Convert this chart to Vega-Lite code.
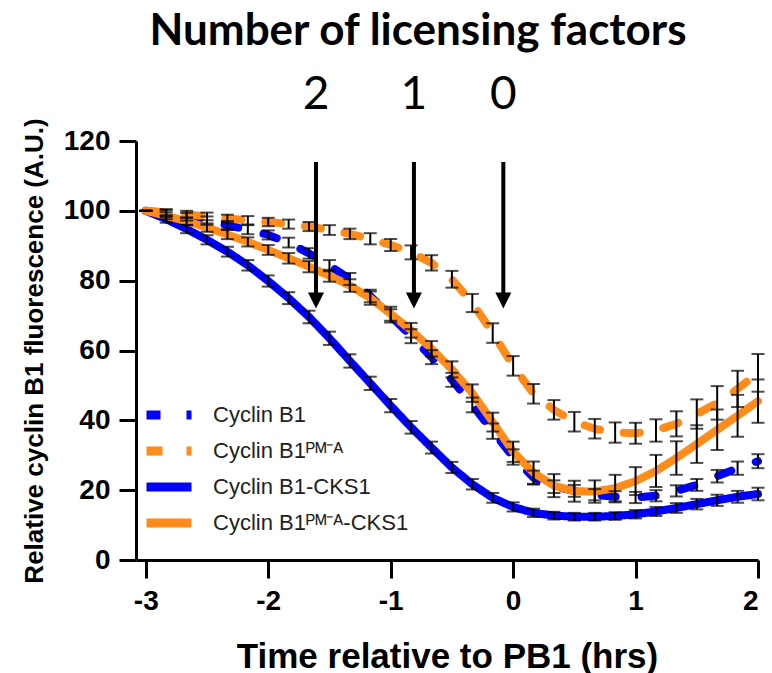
{
  "$schema": "https://vega.github.io/schema/vega-lite/v6.json",
  "width": 622,
  "height": 419,
  "autosize": {"type": "none"},
  "padding": {"left": 136, "top": 141, "right": 14, "bottom": 113},
  "background": "white",
  "title": {"text": "Number of licensing factors", "font": "Lato", "fontSize": 44, "fontWeight": "bold", "color": "black", "frame": "group", "anchor": "middle", "dx": -29, "offset": 18},
  "config": {
    "view": {"stroke": null},
    "axis": {"domainColor": "black", "domainWidth": 3, "tickColor": "black", "tickWidth": 3, "labelFont": "Liberation Sans", "labelFontWeight": "bold", "labelFontSize": 28, "labelColor": "black", "titleFont": "Liberation Sans", "titleFontWeight": "bold", "titleColor": "black", "grid": false},
    "axisX": {"tickSize": 18, "labelPadding": 9, "titleFontSize": 35, "titlePadding": 24},
    "axisY": {"tickSize": 17, "labelPadding": 9, "titleFontSize": 26, "titlePadding": 16}
  },
  "datasets": {
    "curves": [
      {"series": "Cyclin B1", "t": -3, "y": 100, "e": 0},
      {"series": "Cyclin B1", "t": -2.8333, "y": 99.2, "e": 1.0},
      {"series": "Cyclin B1", "t": -2.6667, "y": 98.3, "e": 1.1},
      {"series": "Cyclin B1", "t": -2.5, "y": 97.2, "e": 1.2},
      {"series": "Cyclin B1", "t": -2.3333, "y": 95.9, "e": 1.2},
      {"series": "Cyclin B1", "t": -2.1667, "y": 94.6, "e": 1.3},
      {"series": "Cyclin B1", "t": -2, "y": 93.1, "e": 1.3},
      {"series": "Cyclin B1", "t": -1.8333, "y": 90.9, "e": 1.4},
      {"series": "Cyclin B1", "t": -1.6667, "y": 87.8, "e": 1.5},
      {"series": "Cyclin B1", "t": -1.5, "y": 84.3, "e": 1.6},
      {"series": "Cyclin B1", "t": -1.3333, "y": 80.5, "e": 1.7},
      {"series": "Cyclin B1", "t": -1.1667, "y": 75.6, "e": 1.8},
      {"series": "Cyclin B1", "t": -1, "y": 69.9, "e": 1.9},
      {"series": "Cyclin B1", "t": -0.8333, "y": 64.1, "e": 2.0},
      {"series": "Cyclin B1", "t": -0.6667, "y": 58.1, "e": 2.0},
      {"series": "Cyclin B1", "t": -0.5, "y": 51.6, "e": 2.0},
      {"series": "Cyclin B1", "t": -0.3333, "y": 44.4, "e": 2.1},
      {"series": "Cyclin B1", "t": -0.1667, "y": 36.9, "e": 2.2},
      {"series": "Cyclin B1", "t": 0, "y": 29.5, "e": 2.2},
      {"series": "Cyclin B1", "t": 0.1667, "y": 23.6, "e": 2.0},
      {"series": "Cyclin B1", "t": 0.3333, "y": 21.0, "e": 1.8},
      {"series": "Cyclin B1", "t": 0.5, "y": 19.8, "e": 1.7},
      {"series": "Cyclin B1", "t": 0.6667, "y": 18.7, "e": 1.6},
      {"series": "Cyclin B1", "t": 0.8333, "y": 18.1, "e": 1.6},
      {"series": "Cyclin B1", "t": 1, "y": 17.9, "e": 1.6},
      {"series": "Cyclin B1", "t": 1.1667, "y": 18.4, "e": 1.6},
      {"series": "Cyclin B1", "t": 1.3333, "y": 19.8, "e": 1.6},
      {"series": "Cyclin B1", "t": 1.5, "y": 21.5, "e": 1.7},
      {"series": "Cyclin B1", "t": 1.6667, "y": 24.0, "e": 1.8},
      {"series": "Cyclin B1", "t": 1.8333, "y": 26.3, "e": 1.9},
      {"series": "Cyclin B1", "t": 2, "y": 28.3, "e": 2.0},
      {"series": "Cyclin B1ᴾᴹ⁻ᴬ", "t": -3, "y": 100, "e": 0},
      {"series": "Cyclin B1ᴾᴹ⁻ᴬ", "t": -2.8333, "y": 99.6, "e": 0.9},
      {"series": "Cyclin B1ᴾᴹ⁻ᴬ", "t": -2.6667, "y": 99.0, "e": 1.0},
      {"series": "Cyclin B1ᴾᴹ⁻ᴬ", "t": -2.5, "y": 98.4, "e": 1.1},
      {"series": "Cyclin B1ᴾᴹ⁻ᴬ", "t": -2.3333, "y": 97.8, "e": 1.1},
      {"series": "Cyclin B1ᴾᴹ⁻ᴬ", "t": -2.1667, "y": 97.3, "e": 1.2},
      {"series": "Cyclin B1ᴾᴹ⁻ᴬ", "t": -2, "y": 96.8, "e": 1.2},
      {"series": "Cyclin B1ᴾᴹ⁻ᴬ", "t": -1.8333, "y": 96.2, "e": 1.3},
      {"series": "Cyclin B1ᴾᴹ⁻ᴬ", "t": -1.6667, "y": 95.5, "e": 1.3},
      {"series": "Cyclin B1ᴾᴹ⁻ᴬ", "t": -1.5, "y": 94.5, "e": 1.4},
      {"series": "Cyclin B1ᴾᴹ⁻ᴬ", "t": -1.3333, "y": 93.4, "e": 1.5},
      {"series": "Cyclin B1ᴾᴹ⁻ᴬ", "t": -1.1667, "y": 92.0, "e": 1.6},
      {"series": "Cyclin B1ᴾᴹ⁻ᴬ", "t": -1, "y": 90.2, "e": 1.7},
      {"series": "Cyclin B1ᴾᴹ⁻ᴬ", "t": -0.8333, "y": 88.1, "e": 2.0},
      {"series": "Cyclin B1ᴾᴹ⁻ᴬ", "t": -0.6667, "y": 85.1, "e": 2.2},
      {"series": "Cyclin B1ᴾᴹ⁻ᴬ", "t": -0.5, "y": 80.4, "e": 2.4},
      {"series": "Cyclin B1ᴾᴹ⁻ᴬ", "t": -0.3333, "y": 73.6, "e": 2.6},
      {"series": "Cyclin B1ᴾᴹ⁻ᴬ", "t": -0.1667, "y": 65.0, "e": 2.8},
      {"series": "Cyclin B1ᴾᴹ⁻ᴬ", "t": 0, "y": 55.6, "e": 2.8},
      {"series": "Cyclin B1ᴾᴹ⁻ᴬ", "t": 0.1667, "y": 47.6, "e": 2.8},
      {"series": "Cyclin B1ᴾᴹ⁻ᴬ", "t": 0.3333, "y": 43.0, "e": 2.8},
      {"series": "Cyclin B1ᴾᴹ⁻ᴬ", "t": 0.5, "y": 39.6, "e": 2.8},
      {"series": "Cyclin B1ᴾᴹ⁻ᴬ", "t": 0.6667, "y": 37.6, "e": 2.8},
      {"series": "Cyclin B1ᴾᴹ⁻ᴬ", "t": 0.8333, "y": 36.5, "e": 2.9},
      {"series": "Cyclin B1ᴾᴹ⁻ᴬ", "t": 1, "y": 36.3, "e": 3.0},
      {"series": "Cyclin B1ᴾᴹ⁻ᴬ", "t": 1.1667, "y": 37.1, "e": 3.2},
      {"series": "Cyclin B1ᴾᴹ⁻ᴬ", "t": 1.3333, "y": 39.0, "e": 3.6},
      {"series": "Cyclin B1ᴾᴹ⁻ᴬ", "t": 1.5, "y": 41.8, "e": 4.2},
      {"series": "Cyclin B1ᴾᴹ⁻ᴬ", "t": 1.6667, "y": 45.0, "e": 4.8},
      {"series": "Cyclin B1ᴾᴹ⁻ᴬ", "t": 1.8333, "y": 49.0, "e": 5.2},
      {"series": "Cyclin B1ᴾᴹ⁻ᴬ", "t": 2, "y": 53.6, "e": 5.4},
      {"series": "Cyclin B1-CKS1", "t": -3, "y": 100, "e": 0},
      {"series": "Cyclin B1-CKS1", "t": -2.8333, "y": 97.6, "e": 1.0},
      {"series": "Cyclin B1-CKS1", "t": -2.6667, "y": 94.8, "e": 1.2},
      {"series": "Cyclin B1-CKS1", "t": -2.5, "y": 91.7, "e": 1.3},
      {"series": "Cyclin B1-CKS1", "t": -2.3333, "y": 88.3, "e": 1.4},
      {"series": "Cyclin B1-CKS1", "t": -2.1667, "y": 84.4, "e": 1.5},
      {"series": "Cyclin B1-CKS1", "t": -2, "y": 79.9, "e": 1.6},
      {"series": "Cyclin B1-CKS1", "t": -1.8333, "y": 75.0, "e": 1.7},
      {"series": "Cyclin B1-CKS1", "t": -1.6667, "y": 69.6, "e": 1.8},
      {"series": "Cyclin B1-CKS1", "t": -1.5, "y": 63.5, "e": 1.9},
      {"series": "Cyclin B1-CKS1", "t": -1.3333, "y": 57.0, "e": 1.9},
      {"series": "Cyclin B1-CKS1", "t": -1.1667, "y": 50.6, "e": 1.9},
      {"series": "Cyclin B1-CKS1", "t": -1, "y": 44.2, "e": 1.9},
      {"series": "Cyclin B1-CKS1", "t": -0.8333, "y": 38.0, "e": 1.8},
      {"series": "Cyclin B1-CKS1", "t": -0.6667, "y": 32.2, "e": 1.7},
      {"series": "Cyclin B1-CKS1", "t": -0.5, "y": 26.5, "e": 1.6},
      {"series": "Cyclin B1-CKS1", "t": -0.3333, "y": 21.7, "e": 1.5},
      {"series": "Cyclin B1-CKS1", "t": -0.1667, "y": 17.8, "e": 1.4},
      {"series": "Cyclin B1-CKS1", "t": 0, "y": 15.2, "e": 1.3},
      {"series": "Cyclin B1-CKS1", "t": 0.1667, "y": 13.5, "e": 1.2},
      {"series": "Cyclin B1-CKS1", "t": 0.3333, "y": 12.7, "e": 1.1},
      {"series": "Cyclin B1-CKS1", "t": 0.5, "y": 12.4, "e": 1.1},
      {"series": "Cyclin B1-CKS1", "t": 0.6667, "y": 12.4, "e": 1.1},
      {"series": "Cyclin B1-CKS1", "t": 0.8333, "y": 12.6, "e": 1.1},
      {"series": "Cyclin B1-CKS1", "t": 1, "y": 13.1, "e": 1.2},
      {"series": "Cyclin B1-CKS1", "t": 1.1667, "y": 13.9, "e": 1.3},
      {"series": "Cyclin B1-CKS1", "t": 1.3333, "y": 14.9, "e": 1.4},
      {"series": "Cyclin B1-CKS1", "t": 1.5, "y": 16.0, "e": 1.5},
      {"series": "Cyclin B1-CKS1", "t": 1.6667, "y": 17.1, "e": 1.6},
      {"series": "Cyclin B1-CKS1", "t": 1.8333, "y": 18.1, "e": 1.7},
      {"series": "Cyclin B1-CKS1", "t": 2, "y": 18.9, "e": 1.8},
      {"series": "Cyclin B1ᴾᴹ⁻ᴬ-CKS1", "t": -3, "y": 100, "e": 0},
      {"series": "Cyclin B1ᴾᴹ⁻ᴬ-CKS1", "t": -2.8333, "y": 98.6, "e": 1.0},
      {"series": "Cyclin B1ᴾᴹ⁻ᴬ-CKS1", "t": -2.6667, "y": 97.0, "e": 1.1},
      {"series": "Cyclin B1ᴾᴹ⁻ᴬ-CKS1", "t": -2.5, "y": 95.2, "e": 1.2},
      {"series": "Cyclin B1ᴾᴹ⁻ᴬ-CKS1", "t": -2.3333, "y": 93.2, "e": 1.3},
      {"series": "Cyclin B1ᴾᴹ⁻ᴬ-CKS1", "t": -2.1667, "y": 91.1, "e": 1.3},
      {"series": "Cyclin B1ᴾᴹ⁻ᴬ-CKS1", "t": -2, "y": 88.8, "e": 1.4},
      {"series": "Cyclin B1ᴾᴹ⁻ᴬ-CKS1", "t": -1.8333, "y": 86.4, "e": 1.5},
      {"series": "Cyclin B1ᴾᴹ⁻ᴬ-CKS1", "t": -1.6667, "y": 84.0, "e": 1.6},
      {"series": "Cyclin B1ᴾᴹ⁻ᴬ-CKS1", "t": -1.5, "y": 81.4, "e": 1.7},
      {"series": "Cyclin B1ᴾᴹ⁻ᴬ-CKS1", "t": -1.3333, "y": 78.6, "e": 1.8},
      {"series": "Cyclin B1ᴾᴹ⁻ᴬ-CKS1", "t": -1.1667, "y": 75.0, "e": 1.9},
      {"series": "Cyclin B1ᴾᴹ⁻ᴬ-CKS1", "t": -1, "y": 70.5, "e": 2.0},
      {"series": "Cyclin B1ᴾᴹ⁻ᴬ-CKS1", "t": -0.8333, "y": 65.8, "e": 2.1},
      {"series": "Cyclin B1ᴾᴹ⁻ᴬ-CKS1", "t": -0.6667, "y": 60.5, "e": 2.2},
      {"series": "Cyclin B1ᴾᴹ⁻ᴬ-CKS1", "t": -0.5, "y": 54.6, "e": 2.3},
      {"series": "Cyclin B1ᴾᴹ⁻ᴬ-CKS1", "t": -0.3333, "y": 47.8, "e": 2.5},
      {"series": "Cyclin B1ᴾᴹ⁻ᴬ-CKS1", "t": -0.1667, "y": 39.5, "e": 2.7},
      {"series": "Cyclin B1ᴾᴹ⁻ᴬ-CKS1", "t": 0, "y": 31.0, "e": 2.9},
      {"series": "Cyclin B1ᴾᴹ⁻ᴬ-CKS1", "t": 0.1667, "y": 25.0, "e": 3.2},
      {"series": "Cyclin B1ᴾᴹ⁻ᴬ-CKS1", "t": 0.3333, "y": 21.3, "e": 3.3},
      {"series": "Cyclin B1ᴾᴹ⁻ᴬ-CKS1", "t": 0.5, "y": 19.7, "e": 3.0},
      {"series": "Cyclin B1ᴾᴹ⁻ᴬ-CKS1", "t": 0.6667, "y": 19.6, "e": 3.2},
      {"series": "Cyclin B1ᴾᴹ⁻ᴬ-CKS1", "t": 0.8333, "y": 20.6, "e": 3.8},
      {"series": "Cyclin B1ᴾᴹ⁻ᴬ-CKS1", "t": 1, "y": 22.6, "e": 4.0},
      {"series": "Cyclin B1ᴾᴹ⁻ᴬ-CKS1", "t": 1.1667, "y": 25.5, "e": 4.6},
      {"series": "Cyclin B1ᴾᴹ⁻ᴬ-CKS1", "t": 1.3333, "y": 29.2, "e": 4.8},
      {"series": "Cyclin B1ᴾᴹ⁻ᴬ-CKS1", "t": 1.5, "y": 33.2, "e": 5.4},
      {"series": "Cyclin B1ᴾᴹ⁻ᴬ-CKS1", "t": 1.6667, "y": 37.3, "e": 5.8},
      {"series": "Cyclin B1ᴾᴹ⁻ᴬ-CKS1", "t": 1.8333, "y": 41.3, "e": 6.0},
      {"series": "Cyclin B1ᴾᴹ⁻ᴬ-CKS1", "t": 2, "y": 45.5, "e": 6.2}
    ],
    "arrows": [
      {"t": -1.61, "label": "2"},
      {"t": -0.81, "label": "1"},
      {"t": -0.08, "label": "0"}
    ]
  },
  "layer": [
    {
      "data": {"name": "curves"},
      "mark": {"type": "line", "strokeWidth": 8, "strokeCap": "round", "strokeJoin": "round"},
      "encoding": {
        "x": {"field": "t", "type": "quantitative", "scale": {"domain": [-3.08, 2], "nice": false, "zero": false}, "axis": {"values": [-3, -2, -1, 0, 1, 2], "labelExpr": "'' + datum.value"}, "title": "Time relative to PB1 (hrs)"},
        "y": {"field": "y", "type": "quantitative", "scale": {"domain": [0, 120], "nice": false}, "axis": {"values": [0, 20, 40, 60, 80, 100, 120]}, "title": "Relative cyclin B1 fluorescence (A.U.)"},
        "color": {"field": "series", "type": "nominal", "title": null,
          "scale": {"domain": ["Cyclin B1", "Cyclin B1ᴾᴹ⁻ᴬ", "Cyclin B1-CKS1", "Cyclin B1ᴾᴹ⁻ᴬ-CKS1"], "range": ["#0000ff", "#ff8c1a", "#0000ff", "#ff8c1a"]},
          "legend": {"orient": "none", "legendX": 17, "legendY": 258, "symbolType": "M-2,0L2,0", "symbolSize": 506, "symbolStrokeWidth": 9, "labelFont": "Liberation Sans", "labelFontSize": 22, "labelColor": "#222222", "labelOffset": 28, "labelLimit": 400, "rowPadding": 0, "padding": 0}},
        "strokeDash": {"field": "series", "type": "nominal", "title": null,
          "scale": {"domain": ["Cyclin B1", "Cyclin B1ᴾᴹ⁻ᴬ", "Cyclin B1-CKS1", "Cyclin B1ᴾᴹ⁻ᴬ-CKS1"], "range": [[14, 26], [16, 24], [1, 0], [1, 0]]},
          "legend": {"orient": "none", "legendX": 17, "legendY": 258, "symbolType": "M-2,0L2,0", "symbolSize": 506, "symbolStrokeWidth": 9, "labelFont": "Liberation Sans", "labelFontSize": 22, "labelColor": "#222222", "labelOffset": 28, "labelLimit": 400, "rowPadding": 0, "padding": 0}}
      }
    },
    {
      "data": {"name": "curves"},
      "mark": {"type": "errorbar", "ticks": {"thickness": 2}, "size": 13, "thickness": 2, "color": "black"},
      "encoding": {
        "x": {"field": "t", "type": "quantitative", "title": "Time relative to PB1 (hrs)"},
        "y": {"field": "y", "type": "quantitative", "title": "Relative cyclin B1 fluorescence (A.U.)"},
        "yError": {"field": "e"}
      }
    },
    {
      "data": {"name": "arrows"},
      "mark": {"type": "rule", "strokeWidth": 4, "color": "black"},
      "encoding": {
        "x": {"field": "t", "type": "quantitative", "title": "Time relative to PB1 (hrs)"},
        "y": {"datum": 114},
        "y2": {"datum": 75}
      }
    },
    {
      "data": {"name": "arrows"},
      "mark": {"type": "point", "shape": "M-1,-1L1,-1L0,1Z", "size": 256, "filled": true, "color": "black", "opacity": 1},
      "encoding": {
        "x": {"field": "t", "type": "quantitative", "title": "Time relative to PB1 (hrs)"},
        "y": {"datum": 74.3}
      }
    },
    {
      "data": {"name": "arrows"},
      "mark": {"type": "text", "font": "Lato", "fontSize": 46, "color": "black", "baseline": "middle", "align": "center"},
      "encoding": {
        "x": {"field": "t", "type": "quantitative", "title": "Time relative to PB1 (hrs)"},
        "y": {"datum": 133.2},
        "text": {"field": "label"}
      }
    }
  ]
}
